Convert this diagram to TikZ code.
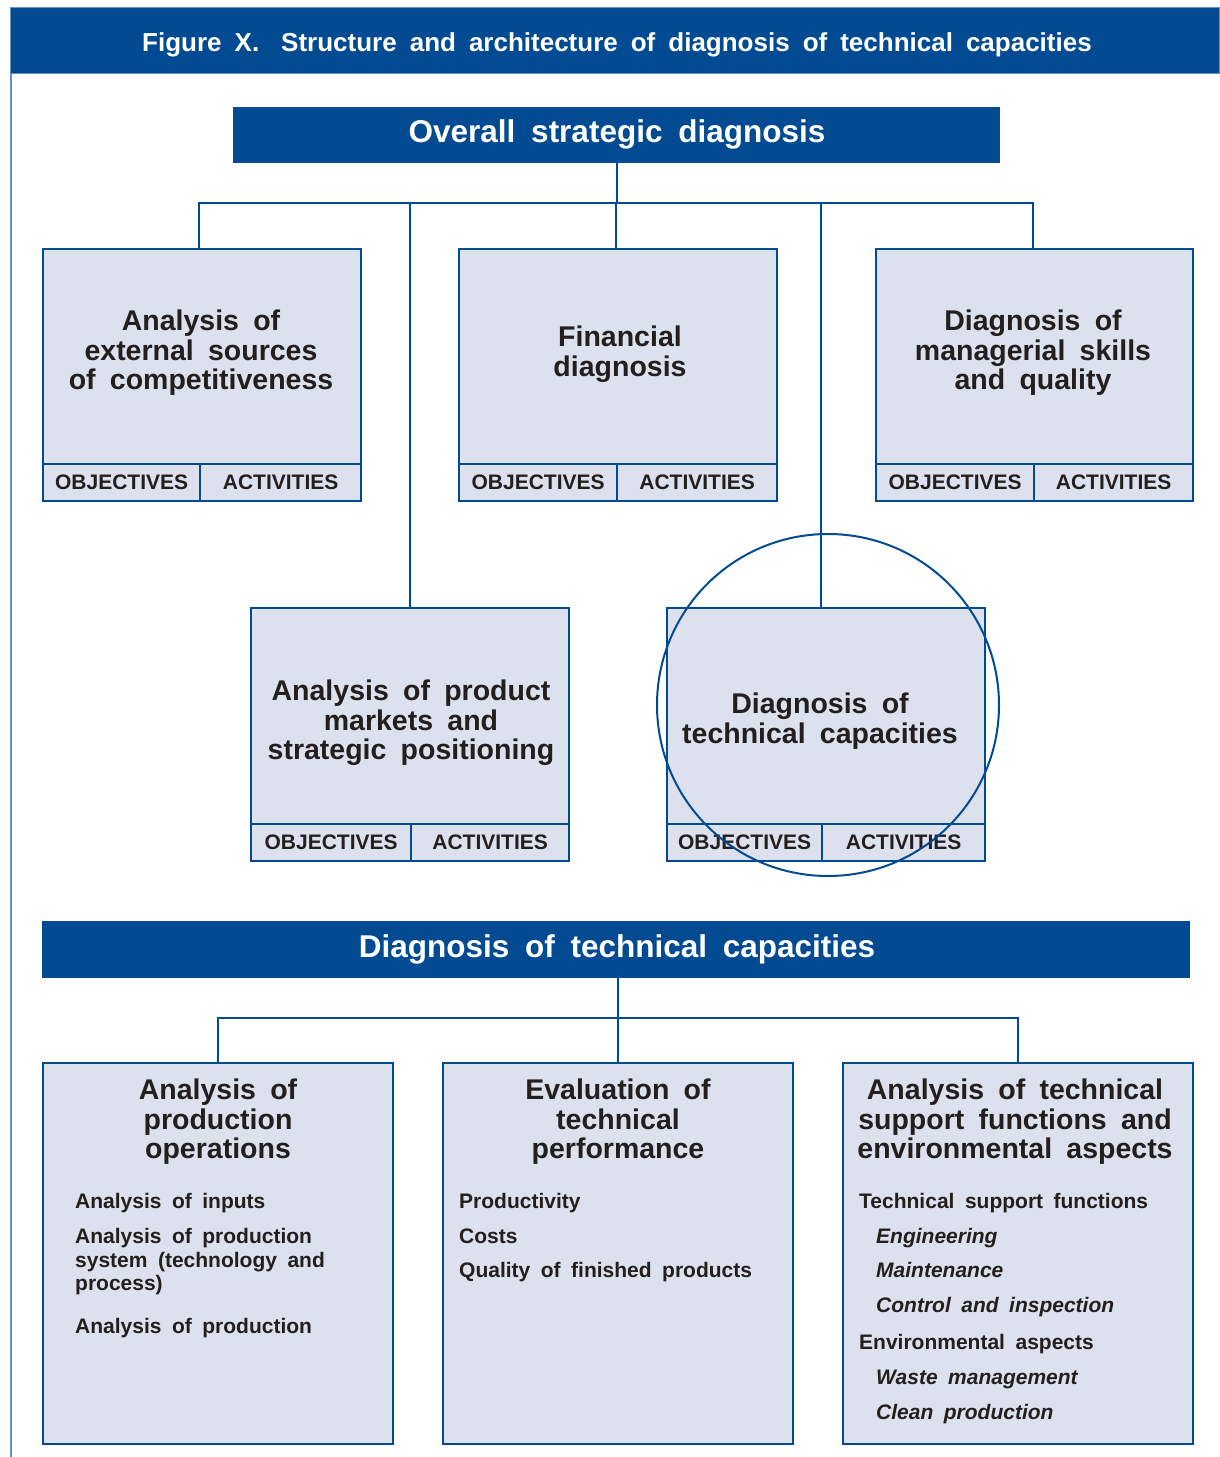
\documentclass[tikz,border=0pt]{standalone}
\usepackage{fontspec}
\setmainfont[WordSpace=1.8]{Liberation Sans}
\definecolor{dblue}{RGB}{2,75,147}
\definecolor{bfill}{RGB}{221,225,238}
\definecolor{ink}{RGB}{35,31,32}
\definecolor{lblue}{RGB}{100,145,200}
\tikzset{
  banner/.style={fill=dblue, draw=none, anchor=north west, inner sep=0pt},
  bannertext/.style={text=white, font=\bfseries\fontsize{31.5}{33}\selectfont, inner sep=0pt},
  box/.style={fill=bfill, draw=dblue, line width=2.2pt, anchor=north west, inner sep=0pt},
  cell/.style={fill=bfill, draw=dblue, line width=2.2pt, anchor=north west, inner sep=0pt,
    minimum height=37pt, text=ink, font=\bfseries\fontsize{21}{23}\selectfont},
  ttl/.style={text=ink, align=center, inner sep=0pt, font=\bfseries\fontsize{28.5}{29.5}\selectfont},
  item/.style={text=ink, anchor=base west, inner sep=0pt, font=\bfseries\fontsize{21}{23}\selectfont},
  sub/.style={item, font=\bfseries\itshape\fontsize{21}{23}\selectfont},
  conn/.style={draw=dblue, line width=2pt},
}
\begin{document}
\begin{tikzpicture}[x=1pt,y=-1pt]
\useasboundingbox (0,0) rectangle (1219,1457);
% frame
\draw[lblue, line width=1.5pt] (11,73) -- (11,1457);
\node[banner, draw=lblue, line width=1pt, minimum width=1209pt, minimum height=66pt] (fig) at (10,7) {};
\node[bannertext, font=\bfseries\fontsize{26}{28}\selectfont] (figt) at (617,45) {Figure X.\hspace{22pt}Structure and architecture of diagnosis of technical capacities};

% overall strategic diagnosis
\node[banner, minimum width=767pt, minimum height=56pt] (osd) at (233,107) {};
\node[bannertext] (osdt) at (617,134) {Overall strategic diagnosis};

% top row boxes
\node[box, minimum width=318pt, minimum height=215pt] (b1) at (42,248) {};
\node[cell, minimum width=157pt] (b1o) at (42,463) {OBJECTIVES};
\node[cell, minimum width=161pt] (b1a) at (199,463) {ACTIVITIES};
\node[ttl] (b1t) at (201,353) {Analysis of\\external sources\\of competitiveness};

\node[box, minimum width=318pt, minimum height=215pt] (b2) at (458,248) {};
\node[cell, minimum width=158pt] (b2o) at (458,463) {OBJECTIVES};
\node[cell, minimum width=160pt] (b2a) at (616,463) {ACTIVITIES};
\node[ttl] (b2t) at (620,354) {Financial\\diagnosis};

\node[box, minimum width=317pt, minimum height=215pt] (b3) at (875,248) {};
\node[cell, minimum width=158pt] (b3o) at (875,463) {OBJECTIVES};
\node[cell, minimum width=159pt] (b3a) at (1033,463) {ACTIVITIES};
\node[ttl] (b3t) at (1033,353) {Diagnosis of\\managerial skills\\and quality};

% middle row boxes
\node[box, minimum width=318pt, minimum height=216pt] (b4) at (250,607) {};
\node[cell, minimum width=160pt] (b4o) at (250,823) {OBJECTIVES};
\node[cell, minimum width=158pt] (b4a) at (410,823) {ACTIVITIES};
\node[ttl] (b4t) at (411,723) {Analysis of product\\markets and\\strategic positioning};

\node[box, minimum width=318pt, minimum height=216pt] (b5) at (666,607) {};
\node[cell, minimum width=155pt] (b5o) at (666,823) {OBJECTIVES};
\node[cell, minimum width=163pt] (b5a) at (821,823) {ACTIVITIES};
\node[ttl] (b5t) at (820,721) {Diagnosis of\\technical capacities};

\node[circle, draw=dblue, line width=2pt, minimum size=342pt, inner sep=0pt] (circ) at (828,705) {};

% connectors top
\coordinate (bus) at (0,203);
\draw[conn] (osd.south) -- (osd.south |- bus);
\draw[conn] (b1a.west |- b1.north) -- (b1a.west |- bus) -- (b3a.west |- bus) -- (b3a.west |- b3.north);
\draw[conn] (b2a.west |- b2.north) -- (b2a.west |- bus);
\draw[conn] (b4a.west |- b4.north) -- (b4a.west |- bus);
\draw[conn] (b5a.west |- b5.north) -- (b5a.west |- bus);

% second banner
\node[banner, minimum width=1148pt, minimum height=57pt] (dtc) at (42,921) {};
\node[bannertext] (dtct) at (617,949) {Diagnosis of technical capacities};

% bottom boxes
\node[box, minimum width=350pt, minimum height=381pt] (c1) at (42,1062) {};
\node[box, minimum width=350pt, minimum height=381pt] (c2) at (442,1062) {};
\node[box, minimum width=350pt, minimum height=381pt] (c3) at (842,1062) {};

\coordinate (bus2) at (0,1018);
\draw[conn] (dtc.south -| c2.north) -- (c2.north);
\draw[conn] (c1.north) -- (c1.north |- bus2) -- (c3.north |- bus2) -- (c3.north);

\node[ttl] (c1t) at (218,1122) {Analysis of\\production\\operations};
\node[ttl] (c2t) at (618,1122) {Evaluation of\\technical\\performance};
\node[ttl] (c3t) at (1015,1122) {Analysis of technical\\support functions and\\environmental aspects};

\node[item] (i11) at (75,1208) {Analysis of inputs};
\node[item] (i12) at (75,1243) {Analysis of production};
\node[item] (i13) at (75,1267) {system (technology and};
\node[item] (i14) at (75,1290) {process)};
\node[item] (i15) at (75,1333) {Analysis of production};

\node[item] (i21) at (459,1208) {Productivity};
\node[item] (i22) at (459,1243) {Costs};
\node[item] (i23) at (459,1277) {Quality of finished products};

\node[item] (i31) at (859,1208) {Technical support functions};
\node[sub] (i32) at (876,1243) {Engineering};
\node[sub] (i33) at (876,1277) {Maintenance};
\node[sub] (i34) at (876,1312) {Control and inspection};
\node[item] (i35) at (859,1349) {Environmental aspects};
\node[sub] (i36) at (876,1384) {Waste management};
\node[sub] (i37) at (876,1419) {Clean production};
\end{tikzpicture}
\end{document}
